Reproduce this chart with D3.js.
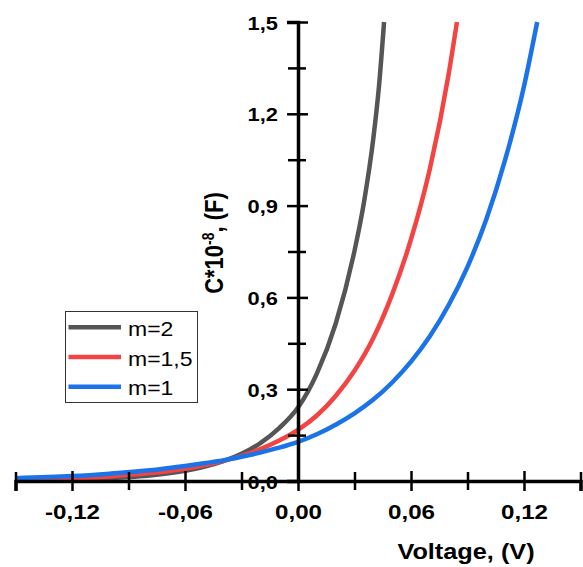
<!DOCTYPE html>
<html>
<head>
<meta charset="utf-8">
<script src="https://cdn.jsdelivr.net/npm/d3@7"></script>
<style>
  body { margin: 0; background: #fff; }
  svg { display: block; }
  text { font-family: "Liberation Sans", Arial, sans-serif; fill: #000; }
</style>
</head>
<body>
<div id="chart"></div>
<script>
// curve values (voltage in V, capacitance in 1e-8 F)
const voltGray = [-0.15, -0.12, -0.10, -0.08, -0.06, -0.05, -0.04, -0.03, -0.02, -0.01, 0, 0.01, 0.02, 0.03, 0.035, 0.04, 0.043, 0.0457];
const capGray  = [0.002, 0.005, 0.009, 0.017, 0.033, 0.046, 0.064, 0.089, 0.124, 0.173, 0.24, 0.351, 0.514, 0.752, 0.91, 1.12, 1.29, 1.50];

const voltRed = [-0.15, -0.12, -0.10, -0.08, -0.06, -0.05, -0.04, -0.03, -0.02, -0.01, 0, 0.01, 0.02, 0.03, 0.04, 0.05, 0.06, 0.07, 0.08, 0.0844];
const capRed  = [0.004, 0.009, 0.015, 0.025, 0.040, 0.051, 0.065, 0.082, 0.104, 0.132, 0.167, 0.214, 0.278, 0.36, 0.467, 0.61, 0.79, 1.02, 1.33, 1.50];

const voltBlue = [-0.15, -0.12, -0.10, -0.08, -0.06, -0.05, -0.04, -0.03, -0.02, -0.01, 0, 0.01, 0.02, 0.03, 0.04, 0.05, 0.06, 0.07, 0.08, 0.09, 0.10, 0.11, 0.12, 0.127];
const capBlue  = [0.009, 0.016, 0.024, 0.034, 0.049, 0.058, 0.067, 0.079, 0.093, 0.109, 0.128, 0.153, 0.184, 0.221, 0.266, 0.322, 0.39, 0.473, 0.575, 0.70, 0.855, 1.05, 1.29, 1.50];

const seriesNames = ["m=2", "m=1,5", "m=1"];
const seriesColors = ["#555555", "#f34343", "#1a73e8"];

const xMajor = [-0.12, -0.06, 0, 0.06, 0.12];
const xTickLabels = ["-0,12", "-0,06", "0,00", "0,06", "0,12"];
const xMinor = [-0.15, -0.09, -0.03, 0.03, 0.09, 0.15];

const yMajor = [0, 0.3, 0.6, 0.9, 1.2, 1.5];
const yTickLabels = ["0,0", "0,3", "0,6", "0,9", "1,2", "1,5"];
const yMinor = [0.15, 0.45, 0.75, 1.05, 1.35];

const W = 583, H = 567;
const stretch = 1.15; // text in the picture is a bit wider than tall

const svg = d3.select("#chart").append("svg")
  .attr("width", W)
  .attr("height", H);

const x = d3.scaleLinear().domain([-0.15, 0.15]).range([15.5, 580.5]);
const y = d3.scaleLinear().domain([0, 1.5]).range([481, 22]);

// curves
const line = d3.line()
  .x(d => x(d[0]))
  .y(d => y(d[1]))
  .curve(d3.curveMonotoneX);

const series = [
  d3.zip(voltGray, capGray),
  d3.zip(voltRed, capRed),
  d3.zip(voltBlue, capBlue)
];

series.forEach(function(pts, i) {
  svg.append("path")
    .datum(pts)
    .attr("fill", "none")
    .attr("stroke", seriesColors[i])
    .attr("stroke-width", 4.5)
    .attr("d", line);
});

// X AXIS (through y = 0)
const xAxisG = svg.append("g")
  .attr("transform", `translate(0,${y(0)})`);

xAxisG.append("g")
  .call(d3.axisBottom(x).tickValues(xMinor).tickSizeOuter(0).tickSize(9).tickFormat(""))
  .call(g => g.select(".domain").remove())
  .selectAll(".tick line")
  .attr("y1", -9)
  .attr("stroke-width", 2.5);

xAxisG.append("g")
  .call(d3.axisBottom(x).tickValues(xMajor).tickSizeOuter(0).tickSize(10)
    .tickFormat((d, i) => xTickLabels[i]))
  .call(g => g.select(".domain").attr("stroke-width", 3.5))
  .call(g => g.selectAll(".tick line").attr("y1", -10).attr("stroke-width", 2.5))
  .selectAll(".tick text")
  .attr("y", 0)
  .attr("dy", 0)
  .attr("transform", `translate(0,38) scale(${stretch},1)`)
  .style("font-size", "21px")
  .style("font-weight", "bold")
  .style("font-family", "'Liberation Sans', Arial, sans-serif");

// Y AXIS (through x = 0)
const yAxisG = svg.append("g")
  .attr("transform", `translate(${x(0)},0)`);

yAxisG.append("g")
  .call(d3.axisLeft(y).tickValues(yMinor).tickSizeOuter(0).tickSize(10).tickFormat(""))
  .call(g => g.select(".domain").remove())
  .selectAll(".tick line")
  .attr("x1", 8)
  .attr("stroke-width", 2.5);

yAxisG.append("g")
  .call(d3.axisLeft(y).tickValues(yMajor).tickSizeOuter(0).tickSize(11)
    .tickFormat((d, i) => yTickLabels[i]))
  .call(g => g.select(".domain").attr("stroke-width", 3.5))
  .call(g => g.selectAll(".tick line").attr("x1", 10).attr("stroke-width", 2.5))
  .selectAll(".tick text")
  .attr("x", 0)
  .attr("dy", 0)
  .attr("text-anchor", "end")
  .attr("transform", `translate(-20,7) scale(${stretch},1)`)
  .style("font-size", "19px")
  .style("font-weight", "bold")
  .style("font-family", "'Liberation Sans', Arial, sans-serif");

// X AXIS LABEL
svg.append("text")
  .attr("transform", `translate(466,559) scale(${stretch},1)`)
  .attr("text-anchor", "middle")
  .style("font-size", "22px")
  .style("font-weight", "bold")
  .text("Voltage, (V)");

// Y AXIS LABEL
const yTitle = svg.append("text")
  .attr("transform", `translate(223,243) scale(${stretch},1) rotate(-90)`)
  .attr("text-anchor", "middle")
  .style("font-size", "22px")
  .style("font-weight", "bold");
yTitle.append("tspan").text("C*10");
yTitle.append("tspan").attr("dy", -8).style("font-size", "14px").text("-8");
yTitle.append("tspan").attr("dy", 8).text(", (F)");

// LEGEND
const legend = svg.append("g");
legend.append("rect")
  .attr("x", 65.5)
  .attr("y", 311.5)
  .attr("width", 132)
  .attr("height", 91)
  .attr("fill", "#fff")
  .attr("stroke", "#333")
  .attr("stroke-width", 1);

seriesNames.forEach(function(name, i) {
  const ly = 327.3 + i * 29.7;
  legend.append("line")
    .attr("x1", 68.5)
    .attr("x2", 121)
    .attr("y1", ly)
    .attr("y2", ly)
    .attr("stroke", seriesColors[i])
    .attr("stroke-width", 4.5);
  legend.append("text")
    .attr("transform", `translate(128,${ly + 8.7}) scale(${stretch},1)`)
    .style("font-size", "20px")
    .text(name);
});
</script>
</body>
</html>
